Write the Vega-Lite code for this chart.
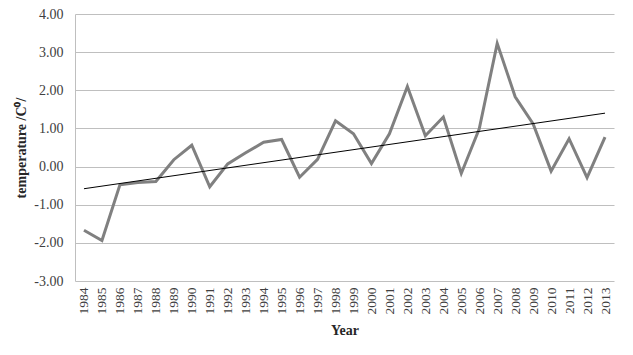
{
  "$schema": "https://vega.github.io/schema/vega-lite/v6.json",
  "autosize": {"type": "none"},
  "width": 539,
  "height": 267,
  "padding": {"left": 75, "top": 14, "right": 19, "bottom": 74},
  "background": "white",
  "config": {
    "view": {"stroke": null},
    "font": "Liberation Serif"
  },
  "data": {
    "values": [
      {"Year": 1984, "value": -1.67},
      {"Year": 1985, "value": -1.94},
      {"Year": 1986, "value": -0.48},
      {"Year": 1987, "value": -0.42},
      {"Year": 1988, "value": -0.39},
      {"Year": 1989, "value": 0.18},
      {"Year": 1990, "value": 0.56},
      {"Year": 1991, "value": -0.53},
      {"Year": 1992, "value": 0.07},
      {"Year": 1993, "value": 0.36},
      {"Year": 1994, "value": 0.64},
      {"Year": 1995, "value": 0.71},
      {"Year": 1996, "value": -0.28},
      {"Year": 1997, "value": 0.19},
      {"Year": 1998, "value": 1.20},
      {"Year": 1999, "value": 0.86},
      {"Year": 2000, "value": 0.08},
      {"Year": 2001, "value": 0.86},
      {"Year": 2002, "value": 2.10},
      {"Year": 2003, "value": 0.81},
      {"Year": 2004, "value": 1.30},
      {"Year": 2005, "value": -0.18},
      {"Year": 2006, "value": 0.99},
      {"Year": 2007, "value": 3.23},
      {"Year": 2008, "value": 1.83},
      {"Year": 2009, "value": 1.12},
      {"Year": 2010, "value": -0.12},
      {"Year": 2011, "value": 0.73},
      {"Year": 2012, "value": -0.29},
      {"Year": 2013, "value": 0.77}
    ]
  },
  "encoding": {
    "x": {
      "field": "Year",
      "type": "ordinal",
      "scale": {"paddingInner": 0, "paddingOuter": 0},
      "axis": {
        "title": "Year",
        "labelAngle": -90,
        "labelAlign": "right",
        "labelBaseline": "middle",
        "labelFont": "Liberation Serif",
        "labelFontSize": 13.5,
        "labelColor": "#404040",
        "labelPadding": 6,
        "ticks": false,
        "domain": false,
        "titleFont": "Liberation Serif",
        "titleFontSize": 14,
        "titleFontWeight": "bold",
        "titleColor": "#262626",
        "titlePadding": 9
      }
    },
    "y": {
      "field": "value",
      "type": "quantitative",
      "scale": {"domain": [-3, 4], "nice": false, "zero": false},
      "axis": {
        "title": "temperature /C⁰/",
        "values": [-3, -2, -1, 0, 1, 2, 3, 4],
        "labelExpr": "(datum.value < 0 ? '-' : '') + format(abs(datum.value), '.2f')",
        "labelFont": "Liberation Serif",
        "labelFontSize": 14,
        "labelColor": "#404040",
        "labelPadding": 12,
        "ticks": false,
        "domain": true,
        "domainColor": "#bfbfbf",
        "domainWidth": 1,
        "grid": true,
        "gridColor": "#bfbfbf",
        "gridWidth": 1,
        "titleFont": "Liberation Serif",
        "titleFontSize": 14,
        "titleFontWeight": "bold",
        "titleColor": "#262626",
        "titlePadding": 5
      }
    }
  },
  "layer": [
    {
      "mark": {"type": "line", "color": "#808080", "strokeWidth": 3}
    },
    {
      "transform": [{"regression": "value", "on": "Year"}],
      "mark": {"type": "line", "color": "#000000", "strokeWidth": 1}
    }
  ]
}
